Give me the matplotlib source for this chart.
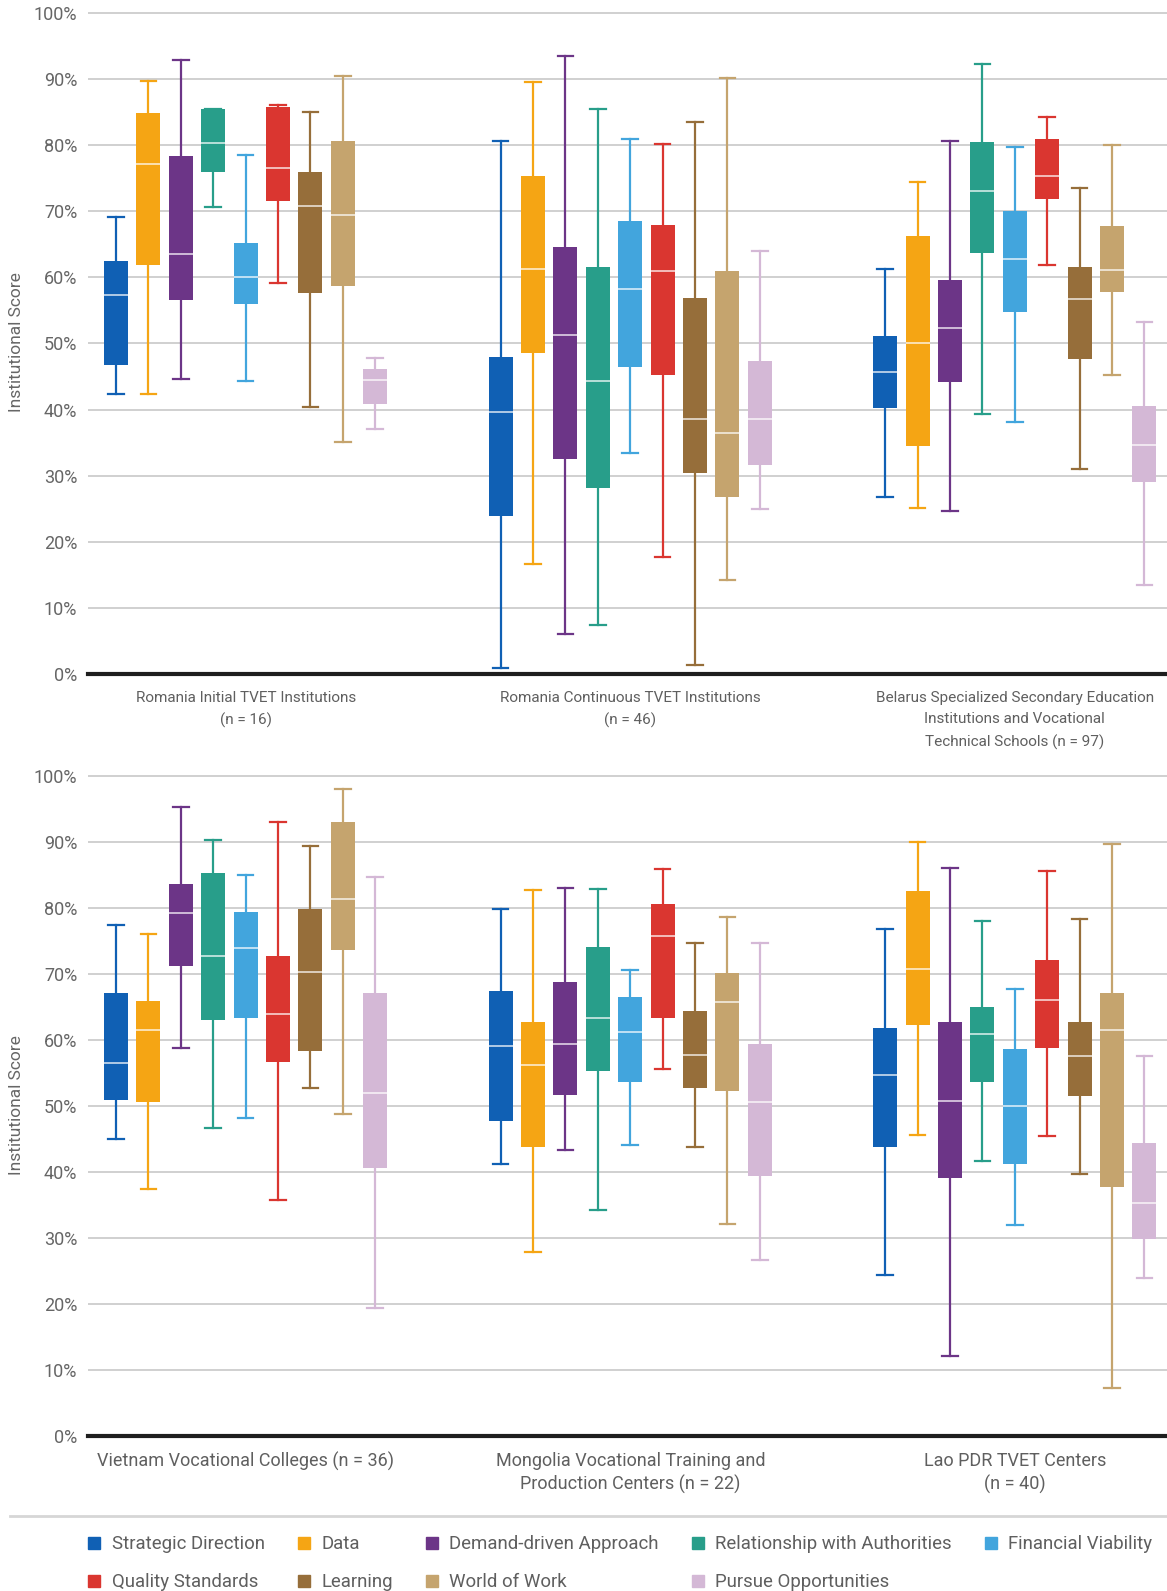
import matplotlib
matplotlib.use('Agg')
import matplotlib.pyplot as plt
from matplotlib.lines import Line2D
from matplotlib.ticker import FuncFormatter

plt.rcParams['font.family'] = ['Roboto', 'DejaVu Sans']

series = ['Strategic Direction', 'Data', 'Demand-driven Approach',
          'Relationship with Authorities', 'Financial Viability',
          'Quality Standards', 'Learning', 'World of Work', 'Pursue Opportunities']
colors = ['#1060b4', '#f5a514', '#6c3587', '#289e8a', '#42a5dd',
          '#da3630', '#966e3a', '#c5a46e', '#d4b8d6']

# (min, q1, median, q3, max) per dimension, in %
romania_initial = [(42.4, 46.8, 57.4, 62.4, 69.2), (42.4, 61.9, 77.1, 84.9, 89.7),
                   (44.6, 56.5, 63.6, 78.3, 92.9), (70.7, 75.9, 80.4, 85.4, 85.4),
                   (44.3, 55.9, 60.1, 65.2, 78.5), (59.2, 71.5, 76.5, 85.7, 86.0),
                   (40.4, 57.6, 70.8, 76.0, 85.0), (35.1, 58.7, 69.5, 80.6, 90.4),
                   (37.0, 40.8, 44.4, 46.2, 47.8)]
romania_continuous = [(0.9, 23.9, 39.6, 47.9, 80.6), (16.7, 48.6, 61.2, 75.4, 89.5),
                      (6.0, 32.5, 51.3, 64.6, 93.5), (7.4, 28.1, 44.3, 61.6, 85.5),
                      (33.4, 46.4, 58.3, 68.6, 80.9), (17.7, 45.2, 60.9, 67.9, 80.2),
                      (1.3, 30.4, 38.5, 56.9, 83.5), (14.2, 26.7, 36.4, 61.0, 90.1),
                      (24.9, 31.6, 38.5, 47.3, 64.0)]
belarus = [(26.8, 40.2, 45.7, 51.1, 61.2), (25.1, 34.5, 50.1, 66.2, 74.4),
           (24.6, 44.2, 52.4, 59.6, 80.6), (39.3, 63.7, 73.1, 80.5, 92.3),
           (38.1, 54.7, 62.8, 70.0, 79.7), (61.9, 71.8, 75.4, 81.0, 84.3),
           (31.0, 47.6, 56.7, 61.6, 73.5), (45.2, 57.8, 61.1, 67.7, 80.0),
           (13.4, 29.1, 34.7, 40.6, 53.2)]
vietnam = [(45.1, 51.0, 56.6, 67.1, 77.4), (37.4, 50.7, 61.5, 66.0, 76.1),
           (58.9, 71.3, 79.3, 83.6, 95.4), (46.7, 63.0, 72.8, 85.4, 90.3),
           (48.2, 63.3, 74.0, 79.5, 85.1), (35.8, 56.7, 63.9, 72.8, 93.0),
           (52.7, 58.3, 70.4, 79.9, 89.4), (48.9, 73.6, 81.4, 93.0, 98.0),
           (19.5, 40.6, 52.0, 67.1, 84.7)]
mongolia = [(41.3, 47.7, 59.2, 67.5, 79.9), (28.0, 43.9, 56.3, 62.8, 82.7),
            (43.4, 51.7, 59.4, 68.8, 83.1), (34.3, 55.4, 63.4, 74.1, 82.9),
            (44.2, 53.6, 61.3, 66.6, 70.6), (55.7, 63.3, 75.8, 80.6, 85.9),
            (43.8, 52.7, 57.8, 64.4, 74.7), (32.1, 52.3, 65.8, 70.2, 78.6),
            (26.7, 39.4, 50.7, 59.5, 74.8)]
lao = [(24.5, 43.9, 54.8, 61.9, 76.8), (45.7, 62.3, 70.8, 82.6, 90.0),
       (12.2, 39.1, 50.8, 62.7, 86.1), (41.7, 53.6, 61.0, 65.0, 78.1),
       (32.0, 41.3, 50.1, 58.6, 67.8), (45.5, 58.9, 66.1, 72.2, 85.6),
       (39.8, 51.6, 57.6, 62.8, 78.4), (7.4, 37.8, 61.6, 67.2, 89.8),
       (24.0, 29.9, 35.3, 44.4, 57.6)]

top_labels = ['Romania Initial TVET Institutions\n(n = 16)',
              'Romania Continuous TVET Institutions\n(n = 46)',
              'Belarus Specialized Secondary Education\nInstitutions and Vocational\nTechnical Schools (n = 97)']
bottom_labels = ['Vietnam Vocational Colleges (n = 36)',
                 'Mongolia Vocational Training and\nProduction Centers (n = 22)',
                 'Lao PDR TVET Centers\n(n = 40)']

GROUP_STEP = 11.87
FIRST = 0.855
TEXT = '#5f5f5f'


def draw_panel(ax, groups, labels, lab_size, lab_spacing, lab_pad):
    for g, data in enumerate(groups):
        stats = [dict(whislo=d[0], q1=d[1], med=d[2], q3=d[3], whishi=d[4]) for d in data]
        pos = [FIRST + g * GROUP_STEP + i for i in range(len(data))]
        bp = ax.bxp(stats, positions=pos, widths=0.74, capwidths=0.48,
                    patch_artist=True, showfliers=False, manage_ticks=False)
        for i, c in enumerate(colors):
            bp['boxes'][i].set(facecolor=c, edgecolor=c, linewidth=0, zorder=3)
            for ln in bp['whiskers'][2 * i:2 * i + 2] + bp['caps'][2 * i:2 * i + 2]:
                ln.set(color=c, linewidth=1.6, zorder=2.5)
            bp['medians'][i].set(color='white', linewidth=1.1, alpha=0.85, zorder=4)
    ax.set_xlim(0, 33.29)
    ax.set_ylim(0, 100.3)
    ax.set_yticks(range(0, 101, 10))
    ax.yaxis.set_major_formatter(FuncFormatter(lambda v, p: f'{v:.0f}%'))
    ax.set_xticks([FIRST + g * GROUP_STEP + 4 for g in range(len(groups))])
    ax.set_xticklabels(labels, fontsize=lab_size, color=TEXT, linespacing=lab_spacing)
    ax.tick_params(axis='x', length=0, pad=lab_pad)
    ax.tick_params(axis='y', length=0, pad=8, labelsize=13, labelcolor='#666666')
    ax.grid(axis='y', color='#c4c4c4', linewidth=1.1)
    ax.set_axisbelow(True)
    for s in ['top', 'right', 'left']:
        ax.spines[s].set_visible(False)
    ax.spines['bottom'].set(linewidth=3, color='#1e1e1e', zorder=5)
    ax.set_ylabel('Institutional Score', fontsize=12.5, color='#666666')
    ax.yaxis.set_label_coords(-0.060, 0.5)


fig = plt.figure(figsize=(11.67, 15.91), dpi=100)
ax1 = fig.add_axes([0.0757, 0.5764, 0.9243, 0.4167])
ax2 = fig.add_axes([0.0757, 0.0972, 0.9243, 0.4162])

draw_panel(ax1, [romania_initial, romania_continuous, belarus], top_labels, 11, 1.68, 12)
draw_panel(ax2, [vietnam, mongolia, lao], bottom_labels, 13, 1.31, 11.5)

# separator above legend
fig.add_artist(Line2D([10 / 1167, 1.0], [1 - 1516 / 1591] * 2, color='#d6d6d6', linewidth=2))

handles = [Line2D([], [], marker='s', linestyle='none', markersize=8, color=c) for c in colors]
order = [0, 5, 1, 6, 2, 7, 3, 8, 4]
fig.legend([handles[i] for i in order], [series[i] for i in order],
           loc='upper left', bbox_to_anchor=(0.0745, 0.035), ncol=5, frameon=False,
           fontsize=13.4, labelcolor=TEXT, handlelength=0.8, handletextpad=0.55,
           columnspacing=1.68, labelspacing=1.07, borderpad=0, borderaxespad=0)

fig.savefig('out.png', dpi=100)
